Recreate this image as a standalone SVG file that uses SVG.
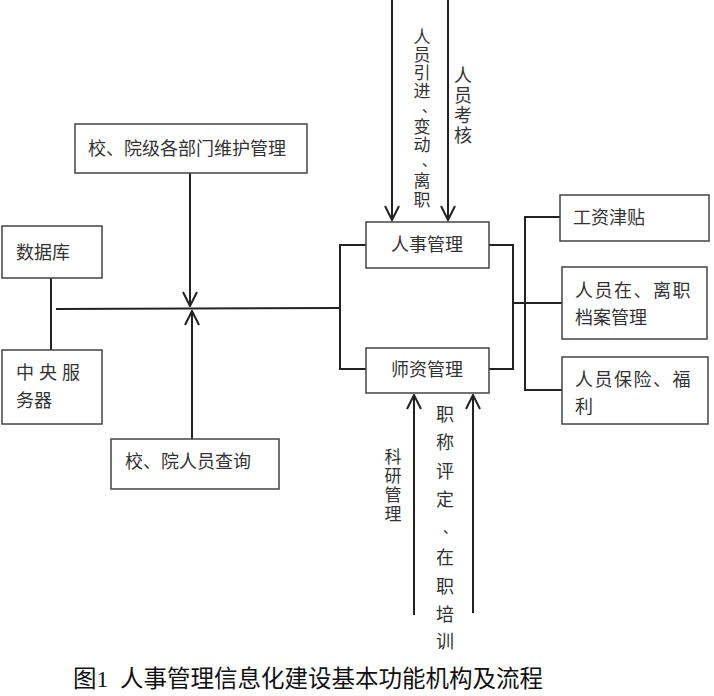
<svg xmlns="http://www.w3.org/2000/svg" width="714" height="696" viewBox="0 0 714 696">
<defs>
<marker id="arr" viewBox="0 0 16 16" refX="15" refY="8" markerWidth="16" markerHeight="16" markerUnits="userSpaceOnUse" orient="auto">
<path d="M1,1 L15,8 L1,15" fill="none" stroke="#222" stroke-width="2"/>
</marker>
<style>
.box{fill:#fff;stroke:#444;stroke-width:1.5}
.t{font-family:"Liberation Sans","Noto Sans CJK SC",sans-serif;font-size:18px;fill:#333}
.v{font-family:"Liberation Sans","Noto Sans CJK SC",sans-serif;font-size:17px;fill:#333;text-anchor:middle;dominant-baseline:central}
.p{font-size:14px}
.ln{fill:none;stroke:#222;stroke-width:2}
.ar{fill:none;stroke:#222;stroke-width:2;marker-end:url(#arr)}
.cap{font-family:"Liberation Serif","Noto Sans CJK SC",serif;font-size:23.5px;fill:#111}
</style>
</defs>
<rect width="714" height="696" fill="#fff"/>
<g id="connectors">
<line class="ar" x1="190" y1="173" x2="190" y2="306"/>
<line class="ar" x1="192" y1="439" x2="192" y2="311"/>
<line class="ln" x1="56" y1="309" x2="340" y2="308"/>
<line class="ln" x1="51" y1="278" x2="51" y2="350"/>
<polyline class="ln" points="366,245 340,245 340,369 366,369"/>
<polyline class="ln" points="489,245 513,245 513,369 489,369"/>
<line class="ln" x1="513" y1="303" x2="562" y2="303"/>
<polyline class="ln" points="560,217 525,217 525,390 562,390"/>
<line class="ar" x1="392" y1="0" x2="392" y2="220"/>
<line class="ar" x1="448" y1="0" x2="448" y2="220"/>
<line class="ar" x1="414" y1="615" x2="414" y2="395"/>
<line class="ar" x1="473" y1="613" x2="473" y2="395"/>
</g>
<g id="dept">
<rect class="box" x="75" y="124" width="232" height="49"/>
<text class="t" x="88" y="155">校、院级各部门维护管理</text>
</g>
<g id="db">
<rect class="box" x="2" y="226" width="100" height="52"/>
<text class="t" x="16" y="259">数据库</text>
</g>
<g id="server">
<rect class="box" x="2" y="350" width="100" height="74"/>
<text class="t" x="16" y="379" letter-spacing="5">中央服</text>
<text class="t" x="16" y="407">务器</text>
</g>
<g id="query">
<rect class="box" x="111" y="439" width="168" height="50"/>
<text class="t" x="125" y="468">校、院人员查询</text>
</g>
<g id="hr">
<rect class="box" x="366" y="222" width="123" height="46"/>
<text class="t" x="391" y="251">人事管理</text>
</g>
<g id="teacher">
<rect class="box" x="366" y="348" width="123" height="45"/>
<text class="t" x="391" y="376">师资管理</text>
</g>
<g id="salary">
<rect class="box" x="560" y="195" width="149" height="46"/>
<text class="t" x="573" y="224">工资津贴</text>
</g>
<g id="archive">
<rect class="box" x="562" y="267" width="145" height="72"/>
<text class="t" x="575" y="297" letter-spacing="1.5">人员在、离职</text>
<text class="t" x="575" y="324">档案管理</text>
</g>
<g id="insurance">
<rect class="box" x="562" y="357" width="146" height="67"/>
<text class="t" x="575" y="386" letter-spacing="1.5">人员保险、福</text>
<text class="t" x="575" y="413">利</text>
</g>
<g id="label-intro">
<text class="v"><tspan x="422" y="37">人</tspan><tspan x="422" y="55">员</tspan><tspan x="422" y="73">引</tspan><tspan x="422" y="91">进</tspan><tspan class="p" x="429" y="107">、</tspan><tspan x="422" y="127">变</tspan><tspan x="422" y="145">动</tspan><tspan class="p" x="429" y="161">、</tspan><tspan x="422" y="181">离</tspan><tspan x="422" y="200">职</tspan></text>
</g>
<g id="label-assess">
<text class="v" style="font-size:18px"><tspan x="463" y="76">人</tspan><tspan x="463" y="96">员</tspan><tspan x="463" y="116">考</tspan><tspan x="463" y="136">核</tspan></text>
</g>
<g id="label-research">
<text class="v"><tspan x="393" y="457">科</tspan><tspan x="393" y="476">研</tspan><tspan x="393" y="495">管</tspan><tspan x="393" y="514">理</tspan></text>
</g>
<g id="label-title">
<text class="v" style="font-size:18px"><tspan x="445" y="415">职</tspan><tspan x="445" y="443">称</tspan><tspan x="445" y="472">评</tspan><tspan x="445" y="500">定</tspan><tspan class="p" x="450" y="528">、</tspan><tspan x="445" y="558">在</tspan><tspan x="445" y="587">职</tspan><tspan x="445" y="615">培</tspan><tspan x="445" y="642">训</tspan></text>
</g>
<g id="caption">
<text class="cap" x="73" y="687" xml:space="preserve">图1  人事管理信息化建设基本功能机构及流程</text>
</g>
</svg>
